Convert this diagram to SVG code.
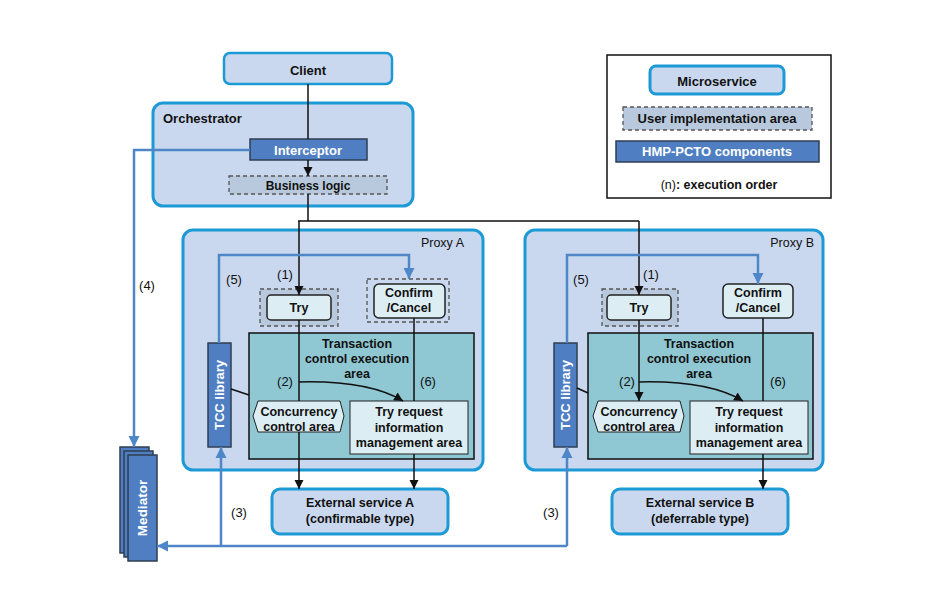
<svg xmlns="http://www.w3.org/2000/svg" width="950" height="608" viewBox="0 0 950 608">
<defs>
<style>
text{font-family:"Liberation Sans",Arial,sans-serif;fill:#111;}
.b{font-weight:bold;font-size:12.5px;text-anchor:middle;}
.w{fill:#fff;}
.r{font-size:13px;text-anchor:middle;}
.ms{fill:#c9d8ee;stroke:#1c9ad6;stroke-width:3;}
.cmp{fill:#4f7fc2;stroke:#2f3e52;stroke-width:1.5;}
.dash{fill:#b8c9dd;stroke:#555;stroke-width:1.3;stroke-dasharray:4 3;}
.dashl{fill:#c9d8ee;stroke:#555;stroke-width:1.3;stroke-dasharray:4 3;}
.inner{fill:#dcedf3;stroke:#222;stroke-width:1.5;}
.teal{fill:#8fc7d3;stroke:#111;stroke-width:1.5;}
.k{fill:none;stroke:#111;stroke-width:1.5;}
.bl{fill:none;stroke:#4f86c8;stroke-width:2.5;}
</style>
<marker id="ak" markerUnits="userSpaceOnUse" markerWidth="10" markerHeight="10" refX="9" refY="5" orient="auto"><path d="M0,0.5 L9,5 L0,9.5 Z" fill="#111"/></marker>
<marker id="ab" markerUnits="userSpaceOnUse" markerWidth="12" markerHeight="12" refX="11" refY="6" orient="auto"><path d="M0,0.5 L11,6 L0,11.5 Z" fill="#4f86c8"/></marker>
</defs>
<rect width="950" height="608" fill="#fff"/>

<g id="legend">
<rect x="607" y="55" width="224" height="143" fill="#fff" stroke="#111" stroke-width="1.5"/>
<rect x="650" y="66" width="134" height="28" rx="6" class="ms"/>
<text x="717" y="86" class="b" style="font-size:13px">Microservice</text>
<rect x="623" y="107" width="189" height="23" class="dash"/>
<text x="717" y="123" class="b" style="font-size:13px">User implementation area</text>
<rect x="616" y="141" width="203" height="21" class="cmp"/>
<text x="717" y="156" class="b w" style="font-size:13px">HMP-PCTO components</text>
<text x="719" y="189" class="r" style="font-size:12.5px"><tspan>(n)</tspan><tspan font-weight="bold">: execution order</tspan></text>
</g>

<g id="client">
<rect x="224" y="53" width="168" height="31" rx="6" class="ms" style="stroke-width:2.5"/>
<text x="308" y="75" class="b" style="font-size:13px">Client</text>
</g>

<g id="orchestrator">
<rect x="153" y="103" width="260" height="103" rx="10" class="ms"/>
<text x="163" y="123" style="font-weight:bold;font-size:13px">Orchestrator</text>
</g>
<g id="interceptor">
<rect x="250" y="139" width="117" height="21" class="cmp"/>
<text x="308" y="155" class="b w" style="font-size:13px">Interceptor</text>
</g>
<g id="business-logic">
<rect x="229" y="176" width="158" height="18" class="dash"/>
<text x="308" y="190" class="b" style="font-size:12px">Business logic</text>
</g>

<g id="proxy-a">
<rect x="183" y="230" width="300" height="240" rx="10" class="ms"/>
<text x="464" y="247" style="font-size:12.5px;text-anchor:end">Proxy A</text>
</g>
<g id="teal-a">
<rect x="249" y="333" width="225" height="126" class="teal"/>
<text x="357" y="348" class="b">Transaction</text>
<text x="357" y="363" class="b">control execution</text>
<text x="357" y="378" class="b">area</text>
</g>
<g id="try-a">
<rect x="260" y="289" width="78" height="37" class="dash"/>
<rect x="267" y="295" width="64" height="25" rx="4" class="inner"/>
<text x="299" y="312" class="b">Try</text>
</g>
<g id="confirm-a">
<rect x="367" y="279" width="82" height="43" class="dashl"/>
<rect x="374" y="284" width="71" height="34" rx="5" class="inner"/>
<text x="409" y="297" class="b">Confirm</text>
<text x="409" y="312" class="b">/Cancel</text>
</g>
<g id="concurrency-a">
<path d="M258,401 L340,401 L344,416 L340,432 L258,432 L253,416 Z" class="inner" style="stroke-width:1"/>
<text x="299" y="416" class="b">Concurrency</text>
<text x="299" y="431" class="b">control area</text>
</g>
<g id="tryreq-a">
<rect x="350" y="401" width="118" height="53" class="inner" style="stroke-width:1"/>
<text x="409" y="416" class="b">Try request</text>
<text x="409" y="432" class="b">information</text>
<text x="409" y="447" class="b">management area</text>
</g>
<g id="tcc-a">
<rect x="208" y="343" width="23" height="104" class="cmp"/>
<text transform="translate(224,395) rotate(-90)" class="b w" style="font-size:13px">TCC library</text>
</g>

<g id="proxy-b">
<rect x="525" y="230" width="298" height="240" rx="10" class="ms"/>
<text x="814" y="247" style="font-size:12.5px;text-anchor:end">Proxy B</text>
</g>
<g id="teal-b">
<rect x="588" y="333" width="225" height="126" class="teal"/>
<text x="699" y="348" class="b">Transaction</text>
<text x="699" y="363" class="b">control execution</text>
<text x="699" y="378" class="b">area</text>
</g>
<g id="try-b">
<rect x="602" y="289" width="76" height="37" class="dash"/>
<rect x="607" y="295" width="64" height="25" rx="4" class="inner"/>
<text x="639" y="312" class="b">Try</text>
</g>
<g id="confirm-b">
<rect x="723" y="284" width="70" height="34" rx="5" class="inner"/>
<text x="758" y="297" class="b">Confirm</text>
<text x="758" y="312" class="b">/Cancel</text>
</g>
<g id="concurrency-b">
<path d="M598,401 L680,401 L684,416 L680,432 L598,432 L593,416 Z" class="inner" style="stroke-width:1"/>
<text x="639" y="416" class="b">Concurrency</text>
<text x="639" y="431" class="b">control area</text>
</g>
<g id="tryreq-b">
<rect x="690" y="401" width="118" height="53" class="inner" style="stroke-width:1"/>
<text x="749" y="416" class="b">Try request</text>
<text x="749" y="432" class="b">information</text>
<text x="749" y="447" class="b">management area</text>
</g>
<g id="tcc-b">
<rect x="554" y="343" width="23" height="104" class="cmp"/>
<text transform="translate(570,395) rotate(-90)" class="b w" style="font-size:13px">TCC library</text>
</g>

<g id="external-a">
<rect x="272" y="489" width="176" height="45" rx="8" class="ms"/>
<text x="360" y="507" class="b">External service A</text>
<text x="360" y="523" class="b">(confirmable type)</text>
</g>
<g id="external-b">
<rect x="612" y="489" width="176" height="45" rx="8" class="ms"/>
<text x="700" y="507" class="b">External service B</text>
<text x="700" y="523" class="b">(deferrable type)</text>
</g>

<g id="mediator">
<rect x="120" y="447" width="29" height="106" class="cmp"/>
<rect x="124" y="451" width="29" height="106" class="cmp"/>
<rect x="128" y="455" width="29" height="106" class="cmp"/>
<text transform="translate(147,508) rotate(-90)" class="b w" style="font-size:13.5px">Mediator</text>
</g>

<g id="connectors">
<path d="M308,84 V139" class="k"/>
<path d="M308,160 V176" class="k" marker-end="url(#ak)"/>
<path d="M308,194 V221 M298,221 H639" class="k"/>
<path d="M299,221 V295" class="k" marker-end="url(#ak)"/>
<path d="M639,221 V295" class="k" marker-end="url(#ak)"/>
<path d="M299,320 V401" class="k"/>
<path d="M299,432 V489" class="k" marker-end="url(#ak)"/>
<path d="M414,318 V401" class="k"/>
<path d="M414,454 V489" class="k" marker-end="url(#ak)"/>
<path d="M299,382 C340,381 378,386 403,401" class="k" marker-end="url(#ak)"/>
<path d="M231,389 L249,395" class="k"/>
<path d="M639,320 V401" class="k" marker-end="url(#ak)"/>
<path d="M763,318 V401" class="k"/>
<path d="M763,454 V489" class="k" marker-end="url(#ak)"/>
<path d="M639,382 C680,381 718,386 743,401" class="k" marker-end="url(#ak)"/>
<path d="M577,388 L588,393" class="k"/>
<path d="M250,150 H134 V447" class="bl" marker-end="url(#ab)"/>
<path d="M219,343 V255 H409 V279" class="bl" marker-end="url(#ab)"/>
<path d="M567,343 V255 H758 V284" class="bl" marker-end="url(#ab)"/>
<path d="M567,546 V447" class="bl" marker-end="url(#ab)"/>
<path d="M567,546 H157" class="bl" marker-end="url(#ab)"/>
<path d="M221,546 V447" class="bl" marker-end="url(#ab)"/>
<text x="147" y="290" class="r">(4)</text>
<text x="234" y="284" class="r">(5)</text>
<text x="285" y="279" class="r">(1)</text>
<text x="285" y="386" class="r">(2)</text>
<text x="428" y="386" class="r">(6)</text>
<text x="239" y="517" class="r">(3)</text>
<text x="581" y="284" class="r">(5)</text>
<text x="651" y="279" class="r">(1)</text>
<text x="627" y="386" class="r">(2)</text>
<text x="778" y="386" class="r">(6)</text>
<text x="551" y="517" class="r">(3)</text>
</g>
</svg>
